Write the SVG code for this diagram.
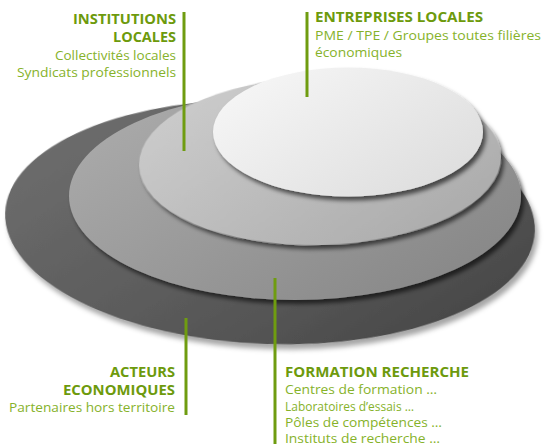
<svg xmlns="http://www.w3.org/2000/svg" width="545" height="444" viewBox="0 0 545 444">
<style>
.h{font-family:"Open Sans","Liberation Sans",sans-serif;font-weight:bold;font-size:13.5px;fill:#6d9a0c}
.b{font-family:"Open Sans","Liberation Sans",sans-serif;font-size:12.5px;fill:#86b22a}
.r{text-anchor:end}
.ln{stroke:#6f9c10;stroke-width:3;fill:none}
</style>
<defs>
<linearGradient id="g1" x1="0" y1="0.2" x2="1" y2="0.9">
<stop offset="0" stop-color="#6e6e6e"/><stop offset="0.6" stop-color="#575757"/><stop offset="1" stop-color="#444"/>
</linearGradient>
<linearGradient id="g2" x1="0" y1="0.2" x2="1" y2="0.9">
<stop offset="0" stop-color="#aaaaaa"/><stop offset="1" stop-color="#858585"/>
</linearGradient>
<linearGradient id="g3" x1="0" y1="0.2" x2="1" y2="0.9">
<stop offset="0" stop-color="#cccccc"/><stop offset="1" stop-color="#a9a9a9"/>
</linearGradient>
<linearGradient id="g4" x1="0" y1="0.2" x2="1" y2="0.9">
<stop offset="0" stop-color="#f6f6f6"/><stop offset="1" stop-color="#dcdcdc"/>
</linearGradient>
<filter id="s0" x="-10%" y="-10%" width="120%" height="125%">
<feDropShadow dx="3" dy="5" stdDeviation="2.5" flood-color="#000" flood-opacity="0.35"/>
</filter>
<filter id="s1" x="-10%" y="-10%" width="120%" height="125%">
<feDropShadow dx="3" dy="4" stdDeviation="2" flood-color="#000" flood-opacity="0.6"/>
</filter>
</defs>
<g id="layers">
<ellipse id="acteurs-layer" cx="270" cy="222" rx="265" ry="122" transform="rotate(2 270 222)" fill="url(#g1)" filter="url(#s0)"/>
<ellipse id="formation-layer" cx="295" cy="196" rx="226" ry="104" fill="url(#g2)" filter="url(#s1)"/>
<ellipse id="institutions-layer" cx="320" cy="161" rx="181" ry="84" transform="rotate(-1.5 320 161)" fill="url(#g3)" filter="url(#s1)"/>
<ellipse id="entreprises-layer" cx="348" cy="132" rx="135" ry="64.5" fill="url(#g4)" filter="url(#s1)"/>
</g>
<g id="connectors">
<line class="ln" x1="184" y1="12" x2="184" y2="151"/>
<line class="ln" x1="307" y1="12" x2="307" y2="97"/>
<line class="ln" x1="186" y1="318" x2="186" y2="415"/>
<line class="ln" x1="275" y1="278" x2="275" y2="444"/>
</g>
<g id="institutions">
<text class="h r" x="176" y="24" textLength="103" lengthAdjust="spacingAndGlyphs">INSTITUTIONS</text>
<text class="h r" x="176" y="42" textLength="63" lengthAdjust="spacingAndGlyphs">LOCALES</text>
<text class="b r" x="176" y="60" textLength="121" lengthAdjust="spacingAndGlyphs">Collectivités locales</text>
<text class="b r" x="176" y="77" textLength="159" lengthAdjust="spacingAndGlyphs">Syndicats professionnels</text>
</g>
<g id="entreprises">
<text class="h" x="315" y="22" textLength="168" lengthAdjust="spacingAndGlyphs">ENTREPRISES LOCALES</text>
<text class="b" x="315" y="40" textLength="226" lengthAdjust="spacingAndGlyphs">PME / TPE / Groupes toutes filières</text>
<text class="b" x="315" y="57" textLength="87" lengthAdjust="spacingAndGlyphs">économiques</text>
</g>
<g id="acteurs">
<text class="h r" x="175" y="377" textLength="65" lengthAdjust="spacingAndGlyphs">ACTEURS</text>
<text class="h r" x="175" y="395" textLength="112" lengthAdjust="spacingAndGlyphs">ECONOMIQUES</text>
<text class="b r" x="175" y="412" textLength="166" lengthAdjust="spacingAndGlyphs">Partenaires hors territoire</text>
</g>
<g id="formation">
<text class="h" x="285" y="377" textLength="184" lengthAdjust="spacingAndGlyphs">FORMATION RECHERCHE</text>
<text class="b" x="285" y="394" textLength="152" lengthAdjust="spacingAndGlyphs">Centres de formation …</text>
<text class="b" x="285" y="411" textLength="129" lengthAdjust="spacingAndGlyphs">Laboratoires d’essais …</text>
<text class="b" x="285" y="427" textLength="157" lengthAdjust="spacingAndGlyphs">Pôles de compétences …</text>
<text class="b" x="285" y="443" textLength="155" lengthAdjust="spacingAndGlyphs">Instituts de recherche …</text>
</g>
</svg>
